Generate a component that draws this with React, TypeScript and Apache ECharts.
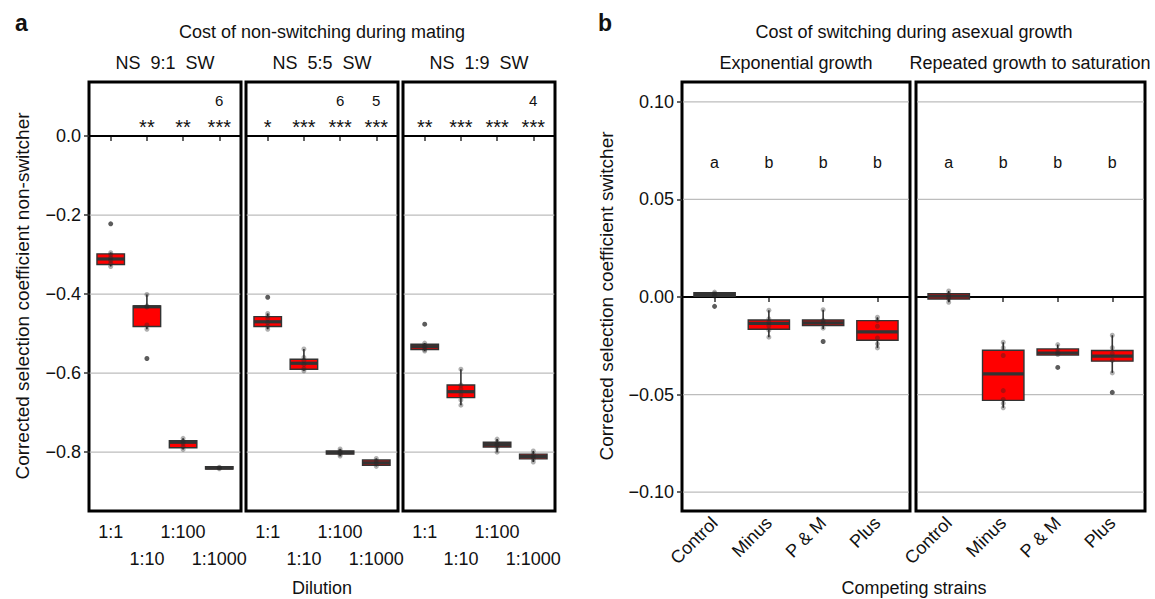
import React, { useEffect, useRef } from "react";
import * as echarts from "echarts";

// ---------- data ----------
const dilutions = ["1:1", "1:10", "1:100", "1:1000"];
const ratioLabels = ["NS  9:1  SW", "NS  5:5  SW", "NS  1:9  SW"];
const strains = ["Control", "Minus", "P & M", "Plus"];
const growthLabels = ["Exponential growth", "Repeated growth to saturation"];

const matingTicks = [0, -0.2, -0.4, -0.6, -0.8];
const matingGridValues = [-0.2, -0.4, -0.6, -0.8];
const asexTicks = [0.1, 0.05, 0, -0.05, -0.1];
const asexGridValues = [0.1, 0.05, -0.05, -0.1];

// box stats: [min, q1, median, q3, max]
const box9to1 = [
  [-0.330, -0.325, -0.311, -0.298, -0.295],
  [-0.489, -0.482, -0.432, -0.430, -0.401],
  [-0.793, -0.789, -0.775, -0.771, -0.765],
  [-0.844, -0.843, -0.840, -0.837, -0.835],
];
const box5to5 = [
  [-0.489, -0.482, -0.470, -0.457, -0.449],
  [-0.594, -0.590, -0.575, -0.565, -0.539],
  [-0.810, -0.805, -0.801, -0.797, -0.792],
  [-0.836, -0.833, -0.827, -0.820, -0.816],
];
const box1to9 = [
  [-0.544, -0.540, -0.533, -0.527, -0.524],
  [-0.681, -0.662, -0.647, -0.630, -0.590],
  [-0.800, -0.787, -0.781, -0.775, -0.767],
  [-0.825, -0.817, -0.811, -0.805, -0.797],
];
const points9to1 = [
  [-0.295, -0.300, -0.308, -0.315, -0.322, -0.330],
  [-0.401, -0.430, -0.433, -0.478, -0.489],
  [-0.765, -0.772, -0.778, -0.786, -0.793],
  [-0.838, -0.840, -0.842],
];
const points5to5 = [
  [-0.449, -0.455, -0.462, -0.472, -0.482, -0.489],
  [-0.539, -0.560, -0.568, -0.578, -0.589, -0.594],
  [-0.792, -0.797, -0.801, -0.806, -0.810],
  [-0.816, -0.822, -0.829, -0.836],
];
const points1to9 = [
  [-0.524, -0.530, -0.535, -0.541, -0.544],
  [-0.590, -0.630, -0.640, -0.655, -0.668, -0.681],
  [-0.767, -0.775, -0.782, -0.790, -0.800],
  [-0.797, -0.806, -0.812, -0.818, -0.825],
];
const outliers9to1 = [[-0.222], [-0.563], [], []];
const outliers5to5 = [[-0.408], [], [], []];
const outliers1to9 = [[-0.476], [], [], []];
const stars9to1 = ["", "**", "**", "***"];
const stars5to5 = ["*", "***", "***", "***"];
const stars1to9 = ["**", "***", "***", "***"];
const counts9to1 = ["", "", "", "6"];
const counts5to5 = ["", "", "6", "5"];
const counts1to9 = ["", "", "", "4"];

const boxExpo = [
  [0.0, 0.0004, 0.0013, 0.0022, 0.0025],
  [-0.0206, -0.0165, -0.0135, -0.0118, -0.0068],
  [-0.0164, -0.0146, -0.0133, -0.0118, -0.0065],
  [-0.0261, -0.0222, -0.0179, -0.0121, -0.0104],
];
const boxSat = [
  [-0.0027, -0.0010, 0.0004, 0.0017, 0.0031],
  [-0.0568, -0.0530, -0.0394, -0.0273, -0.0232],
  [-0.0298, -0.0298, -0.0287, -0.0266, -0.0244],
  [-0.0389, -0.0329, -0.0303, -0.0274, -0.0196],
];
const pointsExpo = [
  [0.0025, 0.0018, 0.0010, 0.0004],
  [-0.0068, -0.0112, -0.0130, -0.0148, -0.0170, -0.0206],
  [-0.0065, -0.0120, -0.0134, -0.0160],
  [-0.0104, -0.0120, -0.0150, -0.0210, -0.0240, -0.0261],
];
const pointsSat = [
  [0.0031, 0.0015, 0.0, -0.0010, -0.0027],
  [-0.0232, -0.0260, -0.0300, -0.0480, -0.0525, -0.0545, -0.0568],
  [-0.0244, -0.0270, -0.0285, -0.0295],
  [-0.0196, -0.0260, -0.0290, -0.0325, -0.0389],
];
const outliersExpo = [[-0.0048], [], [-0.0228], []];
const outliersSat = [[], [], [-0.0361], [-0.0489]];
const lettersExpo = ["a", "b", "b", "b"];
const lettersSat = ["a", "b", "b", "b"];

// ---------- helpers ----------
const FONT = "Liberation Sans, Arial, Helvetica, sans-serif";
const minus = (v: number, d: number) =>
  v === 0 ? (0).toFixed(d) : (v < 0 ? "\u2212" : "") + Math.abs(v).toFixed(d);

function boxSeries(g: number, stats: number[][]) {
  return {
    type: "custom",
    xAxisIndex: g,
    yAxisIndex: g,
    z: 3,
    silent: true,
    data: stats.map((s, i) => [i + 1, ...s]),
    encode: { x: 0, y: [1, 2, 3, 4, 5] },
    renderItem: (params: any, api: any) => {
      const x = api.value(0);
      const mn = api.value(1), q1 = api.value(2), md = api.value(3), q3 = api.value(4), mx = api.value(5);
      const pMin = api.coord([x, mn]);
      const pQ1 = api.coord([x, q1]);
      const pMd = api.coord([x, md]);
      const pQ3 = api.coord([x, q3]);
      const pMax = api.coord([x, mx]);
      const left = api.coord([x - 0.38, md])[0];
      const right = api.coord([x + 0.38, md])[0];
      const cx = pMd[0];
      const stroke = "#333333";
      return {
        type: "group",
        children: [
          { type: "line", shape: { x1: cx, y1: pMax[1], x2: cx, y2: pQ3[1] }, style: { stroke, lineWidth: 1.6 } },
          { type: "line", shape: { x1: cx, y1: pQ1[1], x2: cx, y2: pMin[1] }, style: { stroke, lineWidth: 1.6 } },
          {
            type: "rect",
            shape: { x: left, y: pQ3[1], width: right - left, height: Math.max(pQ1[1] - pQ3[1], 0.5) },
            style: { fill: "#ff0000", stroke, lineWidth: 1.4 },
          },
          { type: "line", shape: { x1: left, y1: pMd[1], x2: right, y2: pMd[1] }, style: { stroke, lineWidth: 3.2 } },
        ],
      };
    },
  };
}

function pointSeries(g: number, pts: number[][], color: string, z: number) {
  const data: number[][] = [];
  pts.forEach((arr, i) => arr.forEach((v) => data.push([i + 1, v])));
  return {
    type: "scatter",
    xAxisIndex: g,
    yAxisIndex: g,
    z,
    silent: true,
    symbolSize: 5,
    itemStyle: { color },
    data,
  };
}

function gridLineSeries(g: number, values: number[], color: string, width: number, z: number) {
  return {
    type: "custom",
    xAxisIndex: g,
    yAxisIndex: g,
    z,
    silent: true,
    data: values.map((v) => [v]),
    encode: { y: 0 },
    renderItem: (params: any, api: any) => {
      const v = api.value(0);
      const p1 = api.coord([0.42, v]);
      const p2 = api.coord([4.58, v]);
      return { type: "line", shape: { x1: p1[0], y1: p1[1], x2: p2[0], y2: p2[1] }, style: { stroke: color, lineWidth: width } };
    },
  };
}

function textSeries(g: number, texts: string[], yVal: number, size: number) {
  return {
    type: "custom",
    xAxisIndex: g,
    yAxisIndex: g,
    z: 5,
    silent: true,
    data: texts.map((t, i) => [i + 1, yVal]),
    encode: { x: 0, y: 1 },
    renderItem: (params: any, api: any) => {
      const p = api.coord([api.value(0), api.value(1)]);
      return {
        type: "text",
        x: p[0],
        y: p[1],
        style: { text: texts[params.dataIndex], fontSize: size, fontFamily: FONT, fill: "#111", align: "center", verticalAlign: "middle" },
      };
    },
  };
}

export default function App() {
  const ref = useRef<HTMLDivElement>(null);
  useEffect(() => {
    if (!ref.current) return;
    const chart = echarts.init(ref.current, undefined, { renderer: "svg" });

    const gridsPx = [
      { left: 89, width: 152 },
      { left: 246, width: 152 },
      { left: 403, width: 152 },
      { left: 682, width: 228 },
      { left: 916, width: 229 },
    ];
    const grid = gridsPx.map((g) => ({
      left: g.left,
      width: g.width,
      top: 82,
      height: 429,
      show: true,
      borderColor: "#000",
      borderWidth: 3,
      backgroundColor: "#fff",
      containLabel: false,
    }));

    const labelCommon = {
      hideOverlap: false,
      showMinLabel: true,
      showMaxLabel: true,
      fontSize: 18,
      color: "#111",
      fontFamily: FONT,
    };

    const xAxis: any[] = gridsPx.map((g, i) => {
      const isA = i < 3;
      return {
        type: "value",
        gridIndex: i,
        min: 0.4,
        max: 4.6,
        axisLine: { show: false },
        splitLine: { show: false },
        axisTick: { show: true, customValues: [1, 2, 3, 4], length: 5, lineStyle: { color: "#333", width: 1.5 } },
        axisLabel: isA
          ? {
              ...labelCommon,
              customValues: [1, 3],
              formatter: (v: number) => dilutions[Math.round(v) - 1],
              margin: 12,
            }
          : {
              ...labelCommon,
              customValues: [1, 2, 3, 4],
              formatter: (v: number) => strains[Math.round(v) - 1],
              rotate: 45,
              margin: 9,
            },
      };
    });
    // second row of dilution labels (panel a)
    for (let i = 0; i < 3; i++) {
      xAxis.push({
        type: "value",
        gridIndex: i,
        position: "bottom",
        offset: 27,
        min: 0.4,
        max: 4.6,
        axisLine: { show: false },
        splitLine: { show: false },
        axisTick: { show: false },
        axisLabel: {
          ...labelCommon,
          customValues: [2, 4],
          formatter: (v: number) => dilutions[Math.round(v) - 1],
          margin: 12,
        },
      });
    }

    const yAxis = gridsPx.map((g, i) => {
      const isA = i < 3;
      const showLab = i === 0 || i === 3;
      return {
        type: "value",
        gridIndex: i,
        min: isA ? -0.949 : -0.1097,
        max: isA ? 0.137 : 0.1102,
        axisLine: { show: false },
        splitLine: { show: false },
        axisTick: {
          show: showLab,
          customValues: isA ? matingTicks : asexTicks,
          length: 5,
          lineStyle: { color: "#333", width: 1.5 },
        },
        axisLabel: {
          ...labelCommon,
          show: showLab,
          customValues: isA ? matingTicks : asexTicks,
          formatter: (v: number) => minus(v, isA ? 1 : 2),
          margin: 8,
        },
      };
    });

    const series: any[] = [];
    const aBoxes = [box9to1, box5to5, box1to9];
    const aPts = [points9to1, points5to5, points1to9];
    const aOut = [outliers9to1, outliers5to5, outliers1to9];
    const aStars = [stars9to1, stars5to5, stars1to9];
    const aCounts = [counts9to1, counts5to5, counts1to9];
    for (let g = 0; g < 3; g++) {
      series.push(gridLineSeries(g, matingGridValues, "#bdbdbd", 1.3, 1));
      series.push(gridLineSeries(g, [0], "#000", 2, 2));
      series.push(boxSeries(g, aBoxes[g]));
      series.push(pointSeries(g, aPts[g], "rgba(40,40,40,0.45)", 4));
      series.push(pointSeries(g, aOut[g], "#333", 4));
      series.push(textSeries(g, aStars[g], 0.024, 20));
      series.push(textSeries(g, aCounts[g], 0.091, 15));
    }
    const bBoxes = [boxExpo, boxSat];
    const bPts = [pointsExpo, pointsSat];
    const bOut = [outliersExpo, outliersSat];
    const bLetters = [lettersExpo, lettersSat];
    for (let k = 0; k < 2; k++) {
      const g = 3 + k;
      series.push(gridLineSeries(g, asexGridValues, "#bdbdbd", 1.3, 1));
      series.push(gridLineSeries(g, [0], "#000", 2, 2));
      series.push(boxSeries(g, bBoxes[k]));
      series.push(pointSeries(g, bPts[k], "rgba(40,40,40,0.45)", 4));
      series.push(pointSeries(g, bOut[k], "#333", 4));
      series.push(textSeries(g, bLetters[k], 0.069, 16));
    }

    const txt = (text: string, x: number, y: number, size: number, extra: any = {}) => ({
      type: "text",
      x,
      y,
      silent: true,
      style: { text, fontSize: size, fontFamily: FONT, fill: "#111", align: "center", verticalAlign: "middle", ...extra },
    });

    const graphic: any[] = [
      txt("a", 15, 23, 23, { fontWeight: "bold", align: "left" }),
      txt("Cost of non-switching during mating", 322, 32, 18),
      txt(ratioLabels[0], 165, 63, 18),
      txt(ratioLabels[1], 322, 63, 18),
      txt(ratioLabels[2], 479, 63, 18),
      txt("b", 598, 23, 23, { fontWeight: "bold", align: "left" }),
      txt("Cost of switching during asexual growth", 914, 32, 18),
      txt(growthLabels[0], 796, 63, 18),
      txt(growthLabels[1], 1030, 63, 18),
      txt("Dilution", 322, 588, 18),
      txt("Competing strains", 914, 588, 18),
      { ...txt("Corrected selection coefficient non-switcher", 22, 296, 19), rotation: Math.PI / 2 },
      { ...txt("Corrected selection coefficient switcher", 606, 296, 19), rotation: Math.PI / 2 },
    ];

    chart.setOption({
      animation: false,
      backgroundColor: "#fff",
      textStyle: { fontFamily: FONT },
      grid,
      xAxis,
      yAxis,
      series,
      graphic,
    });
    return () => chart.dispose();
  }, []);
  return <div ref={ref} style={{ position: "fixed", left: 0, top: 0, width: 1155, height: 599 }} />;
}
